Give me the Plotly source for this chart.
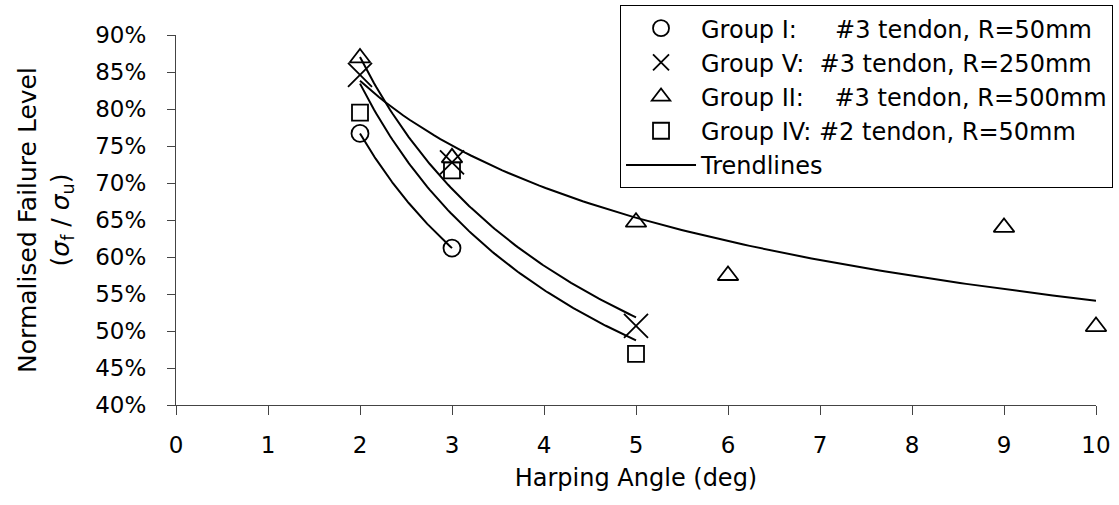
import numpy as np
import plotly.graph_objects as go

# Failure level (% of ultimate) against harping angle (deg) for each test group
angle_g1 = [2, 3]
level_g1 = [76.7, 61.2]

angle_g5 = [2, 3, 5]
level_g5 = [84.6, 72.8, 50.7]

angle_g2 = [2, 3, 5, 6, 9, 10]
level_g2 = [86.9, 73.4, 64.7, 57.5, 64.0, 50.6]

angle_g4 = [2, 3, 5]
level_g4 = [79.5, 71.7, 46.9]

x_ticks = list(range(0, 11))
y_ticks = list(range(40, 91, 5))

FONT = "DejaVu Sans, Liberation Sans, Arial, sans-serif"
FS = 23
NB = "\u00a0"

groups = [
    ("Group I:" + NB * 5 + "#3 tendon, R=50mm", angle_g1, level_g1, "circle-open", 17),
    ("Group V:" + NB * 2 + "#3 tendon, R=250mm", angle_g5, level_g5, "x-thin-open", 24),
    ("Group II:" + NB * 4 + "#3 tendon, R=500mm", angle_g2, level_g2, "triangle-up-open", 18),
    ("Group IV: #2 tendon, R=50mm", angle_g4, level_g4, "square-open", 16),
]


def power_fit(xs, ys):
    """Least-squares power trendline y = a * x^b."""
    b, ln_a = np.polyfit(np.log(xs), np.log(ys), 1)
    return np.exp(ln_a), b


fig = go.Figure()

# Power-law trendlines, one per group
for i, (_, xs, ys, _, _) in enumerate(groups):
    a, b = power_fit(xs, ys)
    xf = np.linspace(min(xs), max(xs), 120)
    fig.add_trace(go.Scatter(
        x=xf, y=a * xf ** b, mode="lines",
        line=dict(color="black", width=2),
        name="Trendlines", showlegend=(i == len(groups) - 1),
        legendrank=10, hoverinfo="skip", cliponaxis=False,
    ))

# Measured points
for rank, (name, xs, ys, sym, size) in enumerate(groups):
    fig.add_trace(go.Scatter(
        x=xs, y=ys, mode="markers", name=name, legendrank=rank + 1,
        cliponaxis=False,
        marker=dict(symbol=sym, size=size, color="black",
                    line=dict(color="black", width=1.8)),
    ))

fig.update_layout(
    width=1119, height=505,
    margin=dict(l=176, r=23, t=35, b=100, autoexpand=False),
    paper_bgcolor="white", plot_bgcolor="white",
    font=dict(family=FONT, size=FS, color="black"),
    showlegend=True,
    legend=dict(
        x=1.0185, xanchor="right", y=1.081, yanchor="top",
        bordercolor="black", borderwidth=1, bgcolor="white",
        font=dict(family=FONT, size=24, color="black"),
        tracegroupgap=0, itemwidth=70,
    ),
)

fig.update_xaxes(
    range=[0, 10], tickvals=x_ticks, ticktext=[str(v) for v in x_ticks],
    showgrid=False, zeroline=False,
    showline=True, linecolor="#444", linewidth=1.2,
    ticks="outside", ticklen=9, tickcolor="#444", ticklabelstandoff=10,
    tickfont=dict(family=FONT, size=FS),
    title=dict(text="Harping Angle (deg)", font=dict(family=FONT, size=24), standoff=12),
)

fig.update_yaxes(
    range=[40, 90], tickvals=y_ticks, ticktext=[f"{v}%" for v in y_ticks],
    showgrid=False, zeroline=False,
    showline=True, linecolor="#444", linewidth=1.2,
    ticks="outside", ticklen=8, tickcolor="#444", ticklabelstandoff=16,
    tickfont=dict(family=FONT, size=FS),
    title=dict(
        text="Normalised Failure Level<br>(<i>σ</i><sub>f</sub> / <i>σ</i><sub>u</sub>)",
        font=dict(family=FONT, size=25), standoff=18,
    ),
)

fig.write_html("out.html")
